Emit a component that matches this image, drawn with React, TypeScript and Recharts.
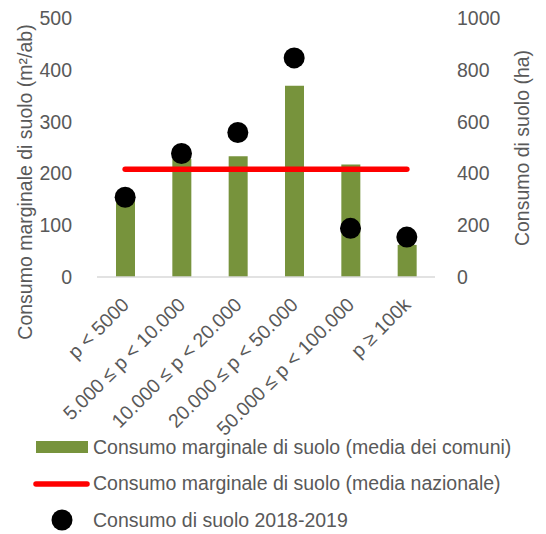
import { ComposedChart, Bar, Line, XAxis, YAxis } from "recharts";

const categories = [
  "p < 5000",
  "5.000 ≤ p < 10.000",
  "10.000 ≤ p < 20.000",
  "20.000 ≤ p  < 50.000",
  "50.000 ≤ p < 100.000",
  "p ≥ 100k",
];
const mediaComuni = [150, 228, 233, 369, 217, 62];
const mediaNazionale = [208, 208, 208, 208, 208, 208];
const consumoSuolo = [308, 477, 558, 846, 188, 154];
const leftTicks = [0, 100, 200, 300, 400, 500];
const rightTicks = [0, 200, 400, 600, 800, 1000];

const FONT = "'Liberation Sans', Arial, sans-serif";
const FS = 19.5;
const GREY = "#595959";
const GREEN = "#77933C";

const data = categories.map((name, i) => ({
  name,
  comuni: mediaComuni[i],
  nazionale: mediaNazionale[i],
  suolo: consumoSuolo[i],
}));

function XTick({ x, y, payload }: any) {
  return (
    <g transform={`translate(${x + 5},${y + 29})`}>
      <text transform="rotate(-45)" textAnchor="end" fill={GREY} fontSize={FS} fontFamily={FONT}>
        {payload.value}
      </text>
    </g>
  );
}

const legendItems = [
  { label: "Consumo marginale di suolo (media dei comuni)", kind: "bar" },
  { label: "Consumo marginale di suolo (media nazionale)", kind: "line" },
  { label: "Consumo di suolo 2018-2019", kind: "dot" },
];

export default function App() {
  return (
    <div style={{ position: "absolute", left: 0, top: 0, width: 546, height: 534, fontFamily: FONT }}>
      <ComposedChart width={546} height={534} data={data} margin={{ top: 18, right: 0, bottom: 157, left: 0 }}>
        <XAxis
          dataKey="name"
          height={100}
          interval={0}
          tickLine={false}
          tickSize={0}
          tickMargin={0}
          axisLine={{ stroke: "#D9D9D9", strokeWidth: 1.5 }}
          tick={<XTick />}
        />
        <YAxis
          yAxisId="left"
          width={97}
          domain={[0, 500]}
          ticks={leftTicks}
          axisLine={false}
          tickLine={false}
          tickSize={0}
          tickMargin={25}
          tick={{ fill: GREY, fontSize: FS, fontFamily: FONT }}
          label={{
            content: () => (
              <text
                x={25}
                y={182}
                transform="rotate(-90 25 182)"
                textAnchor="middle"
                dominantBaseline="central"
                fill={GREY}
                fontSize={FS}
                fontFamily={FONT}
              >
                Consumo marginale di suolo (m²/ab)
              </text>
            ),
          }}
        />
        <YAxis
          yAxisId="right"
          orientation="right"
          width={111}
          domain={[0, 1000]}
          ticks={rightTicks}
          axisLine={false}
          tickLine={false}
          tickSize={0}
          tickMargin={22}
          tick={{ fill: GREY, fontSize: FS, fontFamily: FONT, textAnchor: "start" }}
          label={{
            content: () => (
              <text
                x={522}
                y={148}
                transform="rotate(-90 522 148)"
                textAnchor="middle"
                dominantBaseline="central"
                fill={GREY}
                fontSize={FS}
                fontFamily={FONT}
              >
                Consumo di suolo (ha)
              </text>
            ),
          }}
        />
        <Bar yAxisId="left" dataKey="comuni" fill={GREEN} barSize={19} isAnimationActive={false} />
        <Line
          yAxisId="left"
          dataKey="nazionale"
          stroke="#FF0000"
          strokeWidth={5.5}
          strokeLinecap="round"
          dot={false}
          activeDot={false}
          isAnimationActive={false}
        />
        <Line
          yAxisId="right"
          dataKey="suolo"
          stroke="none"
          strokeWidth={0}
          dot={{ r: 10.5, fill: "#000", stroke: "none" }}
          activeDot={false}
          isAnimationActive={false}
        />
      </ComposedChart>
      <div style={{ position: "absolute", left: 0, top: 429 }}>
        {legendItems.map((item) => (
          <div key={item.label} style={{ display: "flex", alignItems: "center", height: 36.5 }}>
            <svg width={93} height={36} style={{ flex: "none" }}>
              {item.kind === "bar" && <rect x={36} y={12} width={52} height={12} fill={GREEN} />}
              {item.kind === "line" && (
                <line x1={36} y1={18} x2={87} y2={18} stroke="#FF0000" strokeWidth={5.5} strokeLinecap="round" />
              )}
              {item.kind === "dot" && <circle cx={62} cy={18} r={10.5} fill="#000" />}
            </svg>
            <span style={{ color: GREY, fontSize: FS, whiteSpace: "nowrap" }}>{item.label}</span>
          </div>
        ))}
      </div>
    </div>
  );
}
